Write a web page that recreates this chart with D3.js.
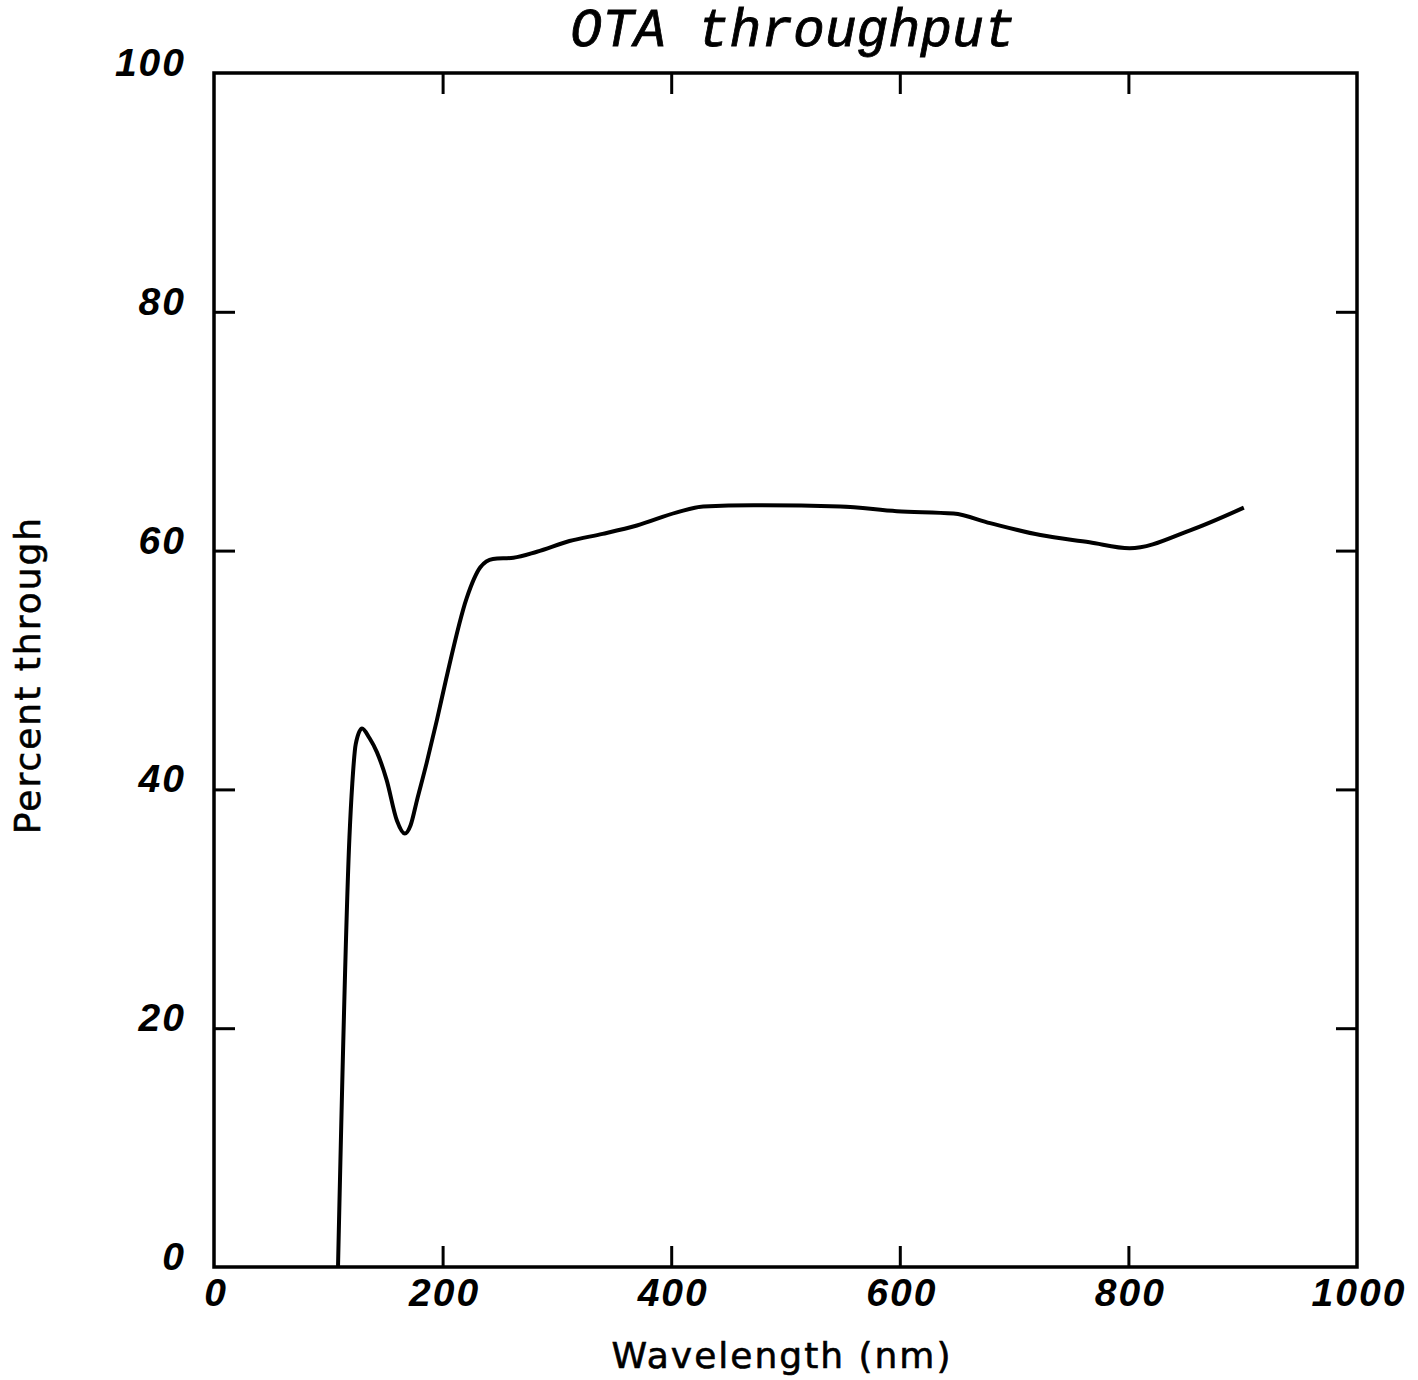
<!DOCTYPE html>
<html lang="en">
<head>
    <meta charset="UTF-8">
    <title>OTA throughput</title>
    <script src="https://cdn.jsdelivr.net/npm/d3@7"></script>
    <style>
        body { margin: 0; background: #fff; }
        svg { display: block; }
        .tick-lbl { font-family: "Liberation Sans", Arial, sans-serif; font-style: italic; font-weight: bold; font-size: 39px; letter-spacing: 2px; fill: #000; }
        .ax-title { font-family: "DejaVu Sans", "Noto Sans", sans-serif; font-size: 36px; letter-spacing: 2px; fill: #000; stroke: #000; stroke-width: 0.6px; }
        .title { font-family: "Liberation Mono", monospace; font-style: italic; font-size: 53px; fill: #000; stroke: #000; stroke-width: 0.8px; }
    </style>
</head>
<body>
<div id="chart"></div>
<script>
  var wavelength = [108.5, 118.5, 121, 124, 129.5, 136, 142.6, 151, 160, 167, 172, 177.6, 186, 195, 203,
    221, 233, 244, 262, 282.5, 311, 340, 370, 405, 428, 472, 548, 597.5, 647, 679, 723, 766, 801, 854, 901]
  var percent = [0, 36, 40.5, 43.8, 45.1, 44.3, 43.1, 40.8, 37.4, 36.3, 37.0, 39.1, 42.2, 45.8, 49.2,
    56, 58.6, 59.3, 59.4, 59.9, 60.8, 61.4, 62.1, 63.2, 63.7, 63.8, 63.7, 63.3, 63.1, 62.3, 61.3, 60.7, 60.2, 61.7, 63.6]
  var xTicks = [0, 200, 400, 600, 800, 1000]
  var yTicks = [0, 20, 40, 60, 80, 100]

  var W = 1418, H = 1380
  var mLeft = 214, mRight = 1357, mTop = 73, mBottom = 1267

  var svg = d3.select('#chart').append('svg').attr('width', W).attr('height', H)

  var x = d3.scaleLinear().domain([0, 1000]).range([mLeft, mRight])
  var y = d3.scaleLinear().domain([0, 100]).range([mBottom, mTop])

  // inward ticks on all four sides
  var tk = 21
  function ticks (g) {
    g.select('.domain').remove()
    g.selectAll('.tick line').attr('stroke', '#000').attr('stroke-width', 3)
  }
  svg.append('g').attr('transform', 'translate(0,' + mBottom + ')')
    .call(d3.axisBottom(x).tickValues(xTicks.slice(1, -1)).tickSize(-tk).tickFormat(''))
    .call(ticks)
  svg.append('g').attr('transform', 'translate(0,' + mTop + ')')
    .call(d3.axisTop(x).tickValues(xTicks.slice(1, -1)).tickSize(-tk).tickFormat(''))
    .call(ticks)
  svg.append('g').attr('transform', 'translate(' + mLeft + ',0)')
    .call(d3.axisLeft(y).tickValues(yTicks.slice(1, -1)).tickSize(-tk).tickFormat(''))
    .call(ticks)
  svg.append('g').attr('transform', 'translate(' + mRight + ',0)')
    .call(d3.axisRight(y).tickValues(yTicks.slice(1, -1)).tickSize(-tk).tickFormat(''))
    .call(ticks)

  // frame
  svg.append('rect')
    .attr('x', mLeft).attr('y', mTop)
    .attr('width', mRight - mLeft).attr('height', mBottom - mTop)
    .attr('fill', 'none').attr('stroke', '#000').attr('stroke-width', 3.5)

  // tick labels
  svg.selectAll('.xl').data(xTicks).enter().append('text')
    .attr('class', 'tick-lbl')
    .attr('x', function (d) { return x(d) + 2 })
    .attr('y', mBottom + 39)
    .attr('text-anchor', 'middle')
    .text(function (d) { return d })
  svg.selectAll('.yl').data(yTicks).enter().append('text')
    .attr('class', 'tick-lbl')
    .attr('x', mLeft - 28)
    .attr('y', function (d) { return y(d) + 3 })
    .attr('text-anchor', 'end')
    .text(function (d) { return d })

  // curve
  var line = d3.line()
    .x(function (d, i) { return x(wavelength[i]) })
    .y(function (d) { return y(d) })
    .curve(d3.curveMonotoneX)
  svg.append('path')
    .attr('d', line(percent))
    .attr('fill', 'none').attr('stroke', '#000')
    .attr('stroke-width', 4).attr('stroke-linejoin', 'round')

  // titles
  svg.append('text').attr('class', 'title')
    .attr('x', 793).attr('y', 46).attr('text-anchor', 'middle')
    .text('OTA throughput')
  svg.append('text').attr('class', 'ax-title')
    .attr('x', 782).attr('y', 1368).attr('text-anchor', 'middle')
    .text('Wavelength (nm)')
  svg.append('text').attr('class', 'ax-title')
    .attr('transform', 'translate(40,675) rotate(-90)')
    .attr('text-anchor', 'middle')
    .text('Percent through')
</script>
</body>
</html>
